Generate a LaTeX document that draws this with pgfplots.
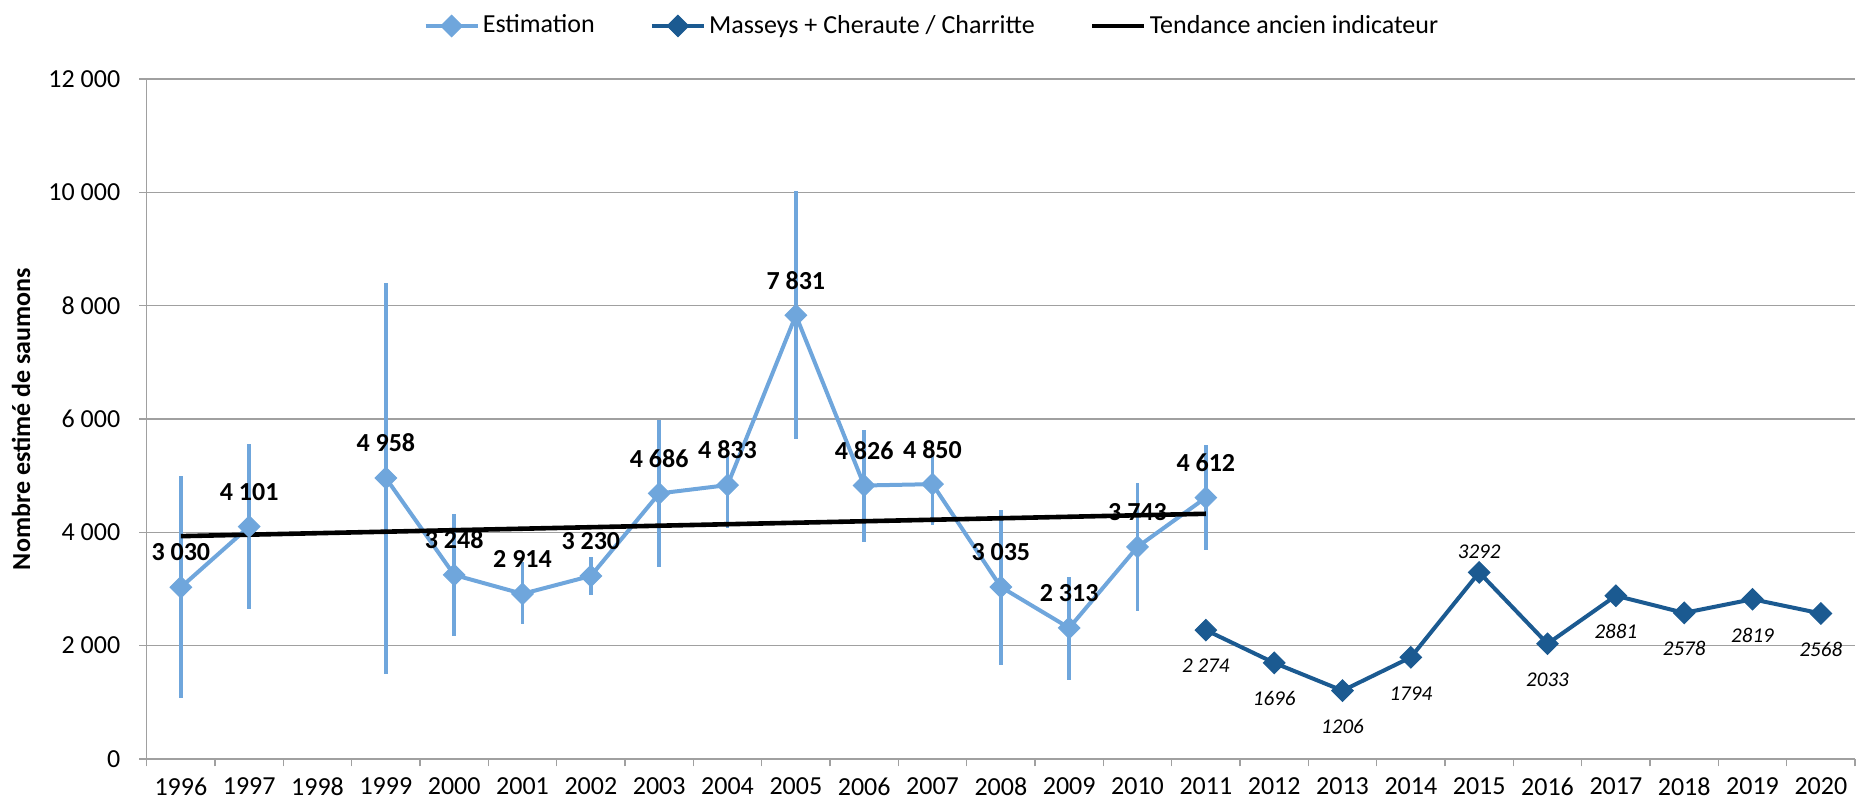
\documentclass[border=0pt]{standalone}
\usepackage{fontspec}
\setmainfont{Carlito}
\usepackage{pgfplots}
\pgfplotsset{compat=1.18}
\definecolor{lblue}{RGB}{111,166,220}
\definecolor{dblue}{RGB}{27,90,145}
\definecolor{gridc}{RGB}{160,160,160}
\begin{document}
\fontsize{13}{15.6}\selectfont
\begin{tikzpicture}
\begin{axis}[
  name=ax,
  scale only axis,
  width=854.2pt, height=340pt,
  xmin=-0.5, xmax=24.5, ymin=0, ymax=12000,
  axis x line*=bottom, axis y line*=left,
  xtick={0,...,24},
  xticklabels={1996,1997,1998,1999,2000,2001,2002,2003,2004,2005,2006,2007,2008,2009,2010,2011,2012,2013,2014,2015,2016,2017,2018,2019,2020},
  minor xtick={-0.5,0.5,...,24.5},
  ytick={0,2000,4000,6000,8000,10000,12000},
  yticklabels={0,2 000,4 000,6 000,8 000,10 000,12 000},
  scaled y ticks=false,
  tick align=outside,
  major tick length=3.7pt, minor tick length=3.7pt,
  major x tick style={draw=none},
  tick style={gridc, line width=0.7pt},
  ymajorgrids,
  grid style={gridc, line width=0.7pt},
  axis line style={gridc, line width=0.7pt},
  xticklabel style={anchor=center, yshift=-10pt},
  yticklabel style={anchor=east, xshift=-5pt},
  ylabel={Nombre estimé de saumons},
  every axis y label/.style={at={(axis description cs:-0.0736,0.5)}, rotate=90, anchor=center, font=\bfseries},
  legend style={at={(0.46,1.078)}, anchor=center, draw=none, fill=none,
    legend columns=3, inner xsep=0pt,
    /tikz/every even column/.append style={column sep=26pt},
    nodes={inner sep=1.6pt}},
  legend image code/.code={\draw[#1, mark repeat=2, mark phase=2] plot coordinates {(0pt,0pt) (13pt,0pt) (26pt,0pt)};},
  unbounded coords=jump,
]
% error bars (confidence intervals) of the estimation
\addplot[forget plot, only marks, mark=none,
  error bars/.cd, y dir=both, y explicit, error mark=none,
  error bar style={lblue, line width=1.9pt}]
  table[x=x, y=y, y error plus=ep, y error minus=em] {
x y ep em
0 3030 1970 1957
1 4101 1459 1446
3 4958 3447 3455
4 3248 1080 1074
5 2914 556 531
6 3230 332 339
7 4686 1297 1293
8 4833 565 763
9 7831 2184 2185
10 4826 980 996
11 4850 544 722
12 3035 1362 1385
13 2313 895 916
14 3743 1124 1140
15 4612 928 932
};
% Estimation
\addplot[lblue, line width=2pt, mark=square*, mark size=3.8pt,
  mark options={rotate=45, solid, fill=lblue, draw=lblue, line width=0.5pt},
  point meta=explicit symbolic,
  nodes near coords,
  nodes near coords style={font=\bfseries, text=black, anchor=center, yshift=17.5pt}]
  table[x=x, y=y, meta=lab] {
x y lab
0 3030 3~030
1 4101 4~101
2 nan x
3 4958 4~958
4 3248 3~248
5 2914 2~914
6 3230 3~230
7 4686 4~686
8 4833 4~833
9 7831 7~831
10 4826 4~826
11 4850 4~850
12 3035 3~035
13 2313 2~313
14 3743 3~743
15 4612 4~612
};
\addlegendentry{Estimation}
% Masseys + Cheraute / Charritte
\addplot[dblue, line width=2pt, mark=square*, mark size=3.8pt,
  mark options={rotate=45, solid, fill=dblue, draw=dblue, line width=0.5pt},
  point meta=explicit symbolic,
  visualization depends on={value \thisrow{dy}\as\dy},
  nodes near coords,
  nodes near coords style={font=\fontsize{10.5}{12}\selectfont\itshape, text=black, anchor=center, yshift=\dy}]
  table[x=x, y=y, meta=lab] {
x y lab dy
15 2274 2~274 -18pt
16 1696 1696 -18pt
17 1206 1206 -18pt
18 1794 1794 -18pt
19 3292 3292 10.5pt
20 2033 2033 -18pt
21 2881 2881 -18pt
22 2578 2578 -18pt
23 2819 2819 -18pt
24 2568 2568 -18pt
};
\addlegendentry{Masseys + Cheraute / Charritte}
% Tendance ancien indicateur
\addplot[black, line width=2.3pt, mark=none] coordinates {(0,3932) (15,4327)};
\addlegendentry{Tendance ancien indicateur}
\end{axis}
\pgfresetboundingbox
\path[use as bounding box] ([xshift=-73.35pt,yshift=-23pt]ax.south west) rectangle ([xshift=0.5pt,yshift=39.5pt]ax.north east);
\end{tikzpicture}
\end{document}
